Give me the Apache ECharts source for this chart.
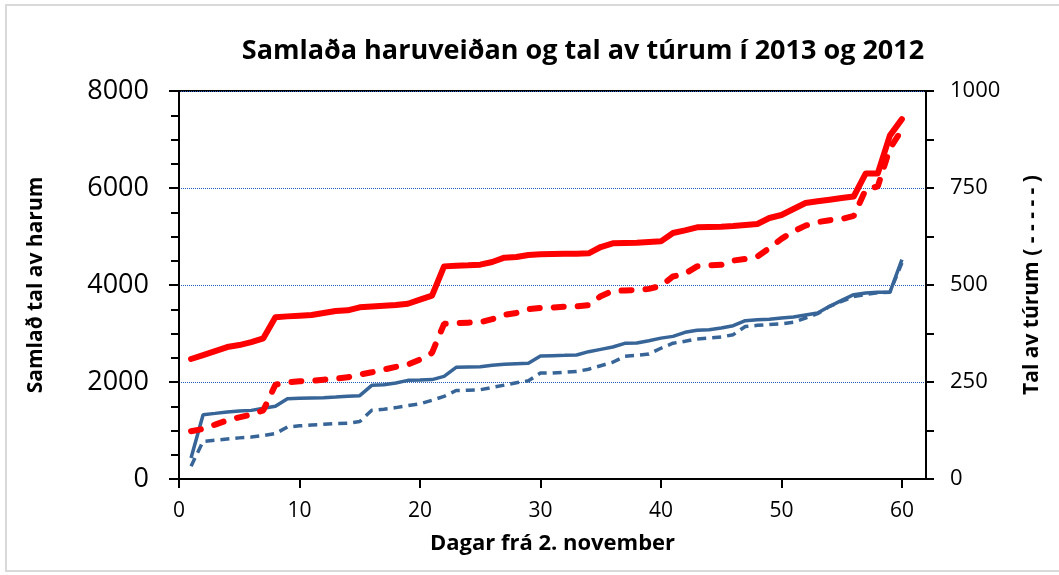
<!DOCTYPE html>
<html lang="fo">
<head>
<meta charset="UTF-8">
<title>Samlaða haruveiðan</title>
<script src="https://cdn.jsdelivr.net/npm/echarts@6/dist/echarts.min.js"></script>
<style>
  html, body { margin: 0; padding: 0; background: #fff; }
  #main { width: 1059px; height: 575px; }
</style>
</head>
<body>
<div id="main"></div>
<script>
// dagar frá 2. november
const days = [1,2,3,4,5,6,7,8,9,10,11,12,13,14,15,16,17,18,19,20,
  21,22,23,24,25,26,27,28,29,30,31,32,33,34,35,36,37,38,39,40,
  41,42,43,44,45,46,47,48,49,50,51,52,53,54,55,56,57,58,59,60];

// samlað tal av harum (vinstra ás)
const harur2013 = [2474,2556,2638,2721,2762,2824,2900,3333,3353,3367,3381,3422,3463,3477,3539,3559,3573,3587,3614,3697,
  3780,4384,4398,4405,4419,4474,4563,4577,4618,4632,4639,4646,4646,4653,4783,4859,4866,4873,4886,4900,
  5072,5127,5189,5196,5203,5216,5237,5258,5382,5444,5567,5691,5725,5759,5794,5825,6300,6300,7080,7420];
const harur2012 = [432,1326,1353,1381,1401,1415,1457,1498,1656,1663,1670,1677,1690,1704,1718,1931,1944,1979,2034,2041,
  2050,2116,2302,2309,2316,2343,2364,2378,2385,2536,2543,2549,2556,2625,2673,2721,2797,2804,2852,2905,
  2941,3024,3065,3079,3113,3161,3264,3285,3292,3319,3340,3381,3422,3560,3683,3800,3835,3848,3848,4522];

// tal av túrum (høgra ás)
const turar2013 = [123,129,140,151,159,166,177,243,249,252,253,256,259,262,269,275,282,289,295,308,
  325,400,402,403,404,412,423,428,438,441,442,444,445,448,471,485,486,487,490,498,
  522,529,548,551,552,563,567,573,595,619,638,653,662,667,670,678,746,754,852,900];
const turar2012 = [33,97,100,103,106,108,112,117,134,137,139,141,143,144,148,177,180,184,189,194,
  203,213,228,229,230,236,242,248,253,273,273,275,277,283,292,301,316,319,322,337,
  350,355,361,363,366,372,393,396,398,400,404,415,426,445,458,470,476,480,481,557];

const xTicks = [0, 10, 20, 30, 40, 50, 60];

function pairs(vals) {
  return days.map((d, i) => [d, vals[i]]);
}

const RED = '#ff0000';
const BLUE = '#386598';
const FONT = 'Open Sans';

let myChart = echarts.init(document.getElementById('main'));

option = {
  animation: false,
  backgroundColor: '#fff',
  textStyle: { fontFamily: FONT, color: '#000' },
  graphic: [{
    type: 'rect',
    shape: { x: 6, y: 5, width: 1060, height: 566 },
    style: { fill: 'none', stroke: '#d9d9d9', lineWidth: 2 },
    silent: true
  }],
  title: {
    text: 'Samlaða haruveiðan og tal av túrum í 2013 og 2012',
    left: 583,
    top: 38,
    padding: 0,
    textAlign: 'center',
    textStyle: { fontFamily: FONT, fontSize: 27, fontWeight: 'bold', color: '#000' }
  },
  grid: {
    left: 179, right: 133, top: 91, bottom: 96,
    show: true,
    borderColor: '#000',
    borderWidth: 2
  },
  xAxis: {
    type: 'value',
    min: 0,
    max: 62,
    name: 'Dagar frá 2. november',
    nameLocation: 'middle',
    nameGap: 54,
    nameTextStyle: { fontFamily: FONT, fontSize: 22, fontWeight: 'bold', color: '#000' },
    axisLine: { lineStyle: { color: '#000', width: 2 } },
    axisTick: { length: 9, customValues: xTicks, lineStyle: { color: '#000', width: 2 } },
    axisLabel: { customValues: xTicks, margin: 22, fontSize: 21, color: '#000', fontFamily: FONT },
    splitLine: { show: false }
  },
  yAxis: [{
    type: 'value',
    min: 0,
    max: 8000,
    interval: 2000,
    name: 'Samlað tal av harum',
    nameLocation: 'middle',
    nameRotate: 90,
    nameGap: 132,
    nameTextStyle: { fontFamily: FONT, fontSize: 21, fontWeight: 'bold', color: '#000' },
    axisLine: { show: true, lineStyle: { color: '#000', width: 2 } },
    axisTick: { show: true, length: 10, lineStyle: { color: '#000', width: 2 } },
    minorTick: { show: true, splitNumber: 4, length: 8, lineStyle: { color: '#000', width: 2 } },
    axisLabel: { margin: 30, fontSize: 27, color: '#000', fontFamily: FONT, formatter: v => String(v) },
    splitLine: { show: true, lineStyle: { color: '#1f5cc0', width: 1, type: 'dotted' } }
  }, {
    type: 'value',
    position: 'right',
    min: 0,
    max: 1000,
    interval: 250,
    name: 'Tal av túrum ( - - - - - )',
    nameLocation: 'middle',
    nameRotate: 90,
    nameGap: 96,
    nameTextStyle: { fontFamily: FONT, fontSize: 21, fontWeight: 'bold', color: '#000' },
    axisLine: { show: true, lineStyle: { color: '#000', width: 2 } },
    axisTick: { show: true, length: 8, lineStyle: { color: '#000', width: 2 } },
    minorTick: { show: true, splitNumber: 2, length: 8, lineStyle: { color: '#000', width: 2 } },
    axisLabel: { margin: 24, fontSize: 22, color: '#000', fontFamily: FONT, formatter: v => String(v) },
    splitLine: { show: false }
  }],
  series: [{
    name: 'Harur 2012',
    type: 'line',
    yAxisIndex: 0,
    data: pairs(harur2012),
    symbol: 'none',
    lineStyle: { color: BLUE, width: 3.5 },
    z: 2
  }, {
    name: 'Túrar 2012',
    type: 'line',
    yAxisIndex: 1,
    data: pairs(turar2012),
    symbol: 'none',
    lineStyle: { color: BLUE, width: 3.5, type: [9, 6] },
    z: 2
  }, {
    name: 'Túrar 2013',
    type: 'line',
    yAxisIndex: 1,
    data: pairs(turar2013),
    symbol: 'none',
    lineStyle: { color: RED, width: 6, type: [10, 14], cap: 'round' },
    z: 3
  }, {
    name: 'Harur 2013',
    type: 'line',
    yAxisIndex: 0,
    data: pairs(harur2013),
    symbol: 'none',
    lineStyle: { color: RED, width: 6, cap: 'round', join: 'round' },
    z: 3
  }]
};
myChart.setOption(option);
</script>
</body>
</html>
